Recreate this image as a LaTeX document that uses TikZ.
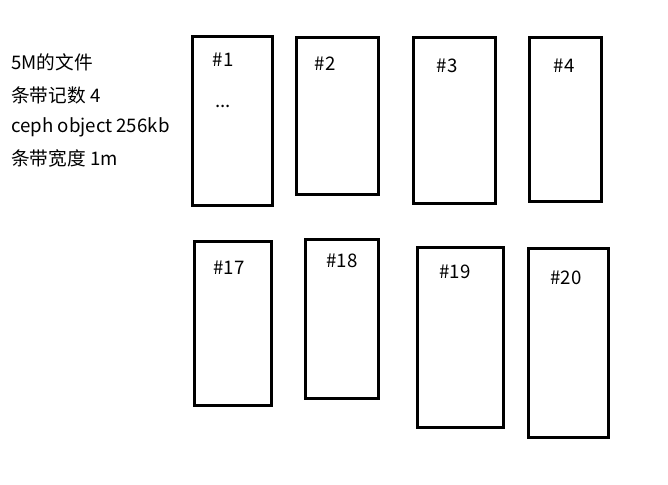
\documentclass[tikz,border=0pt]{standalone}
\usepackage{fontspec}
\setmainfont{Noto Sans CJK SC}
\usetikzlibrary{fit}
\begin{document}
\begin{tikzpicture}[x=0.75pt,y=-0.75pt,
  box/.style={draw=black,line width=2.25pt,inner sep=0pt,fit={#1}},
  lbl/.style={font=\fontsize{14}{16}\selectfont,inner sep=0pt,anchor=center},
  info/.style={font=\fontsize{14}{16}\selectfont,inner sep=0pt,anchor=west}]
\useasboundingbox[fill=white] (0,0) rectangle (668,485);
% info text
\node[info] (t1) at (11,62) {5M的文件};
\node[info] (t2) at (11,95) {条带记数 4};
\node[info] (t3) at (11,127) {ceph object 256kb};
\node[info] (t4) at (11,158) {条带宽度 1m};
% top row
\node[box={(192.5,36.5) (272.5,205.5)}] (b1) {};
\node[box={(296.5,37.5) (378.5,194.5)}] (b2) {};
\node[box={(413.5,37.5) (495.5,203)}] (b3) {};
\node[box={(529.5,37.5) (601.5,201.5)}] (b4) {};
\node[lbl] (l1) at (223,60) {\#1};
\node[lbl] (d1) at (223,106) {...};
\node[lbl] (l2) at (325,64) {\#2};
\node[lbl] (l3) at (447,66) {\#3};
\node[lbl] (l4) at (564,66) {\#4};
% bottom row
\node[box={(194.5,241.5) (271.5,405.5)}] (b17) {};
\node[box={(305.5,239.5) (378.5,398.5)}] (b18) {};
\node[box={(417.5,247.5) (503.5,427.5)}] (b19) {};
\node[box={(528.5,248.5) (608.5,437.5)}] (b20) {};
\node[lbl] (l17) at (229,268) {\#17};
\node[lbl] (l18) at (342,261) {\#18};
\node[lbl] (l19) at (455,272) {\#19};
\node[lbl] (l20) at (566,278) {\#20};
\end{tikzpicture}
\end{document}
